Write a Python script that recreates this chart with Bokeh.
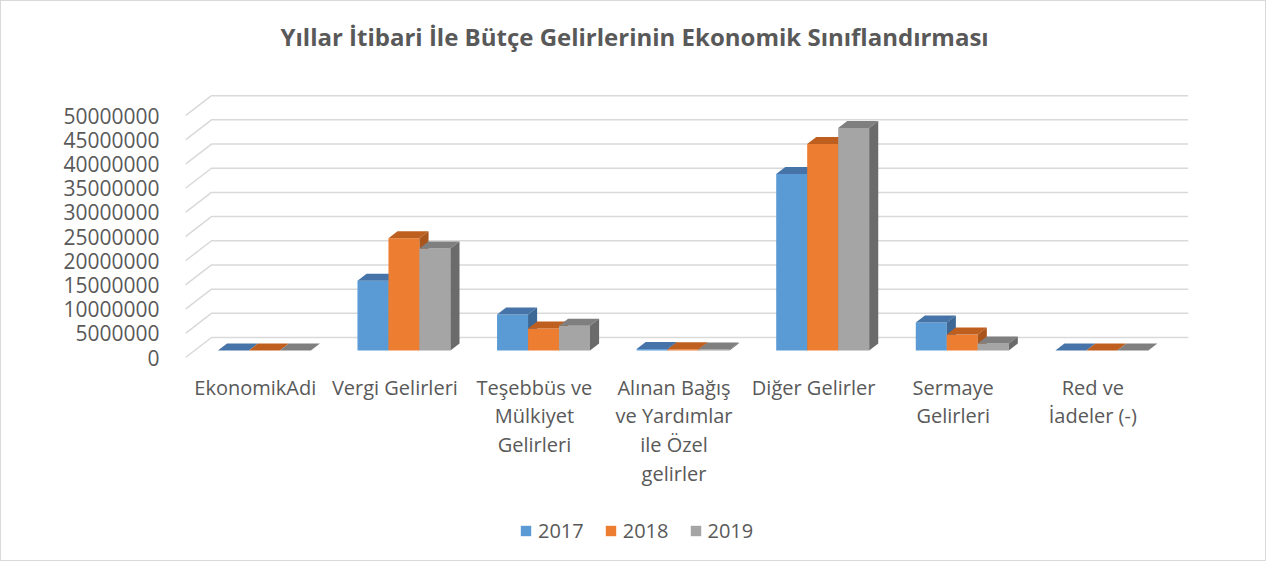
from bokeh.plotting import figure
from bokeh.models import ColumnDataSource, FixedTicker, Range1d, Legend, LegendItem, Title
from bokeh.core.properties import value
from bokeh.embed import file_html
from bokeh.resources import INLINE

# ---------------- data ----------------
categories = ["EkonomikAdi", "Vergi Gelirleri", "Teşebbüs ve\nMülkiyet\nGelirleri",
              "Alınan Bağış\nve Yardımlar\nile Özel\ngelirler", "Diğer Gelirler",
              "Sermaye\nGelirleri", "Red ve\nİadeler (-)"]
years = ["2017", "2018", "2019"]
v2017 = [0, 14400000, 7450000, 300000, 36500000, 5800000, 0]
v2018 = [0, 23200000, 4550000, 250000, 42700000, 3300000, 0]
v2019 = [0, 21100000, 5100000, 200000, 46000000, 1450000, 0]
y_ticks = [0, 5000000, 10000000, 15000000, 20000000, 25000000,
           30000000, 35000000, 40000000, 45000000, 50000000]
y_tick_labels = ["0", "5000000", "10000000", "15000000", "20000000", "25000000",
                 "30000000", "35000000", "40000000", "45000000", "50000000"]
title_text = "Yıllar İtibari İle Bütçe Gelirlerinin Ekonomik Sınıflandırması"

# ---------------- style ----------------
front_colors = ["#5B9BD5", "#ED7D31", "#A5A5A5"]
top_colors = ["#4674A8", "#BE5F1F", "#7F7F7F"]
side_colors = ["#3D6895", "#A9551C", "#6B6B6B"]
TXT = "#595959"
GRID = "#D9D9D9"
FONT = "Open Sans"

W, H = 1266, 561
BORDER_L, BORDER_R, BORDER_T = 184, 79, 90
PLOT_H = 266          # px from frame top to the value-0 line
Y_TOP = 55e6          # value at frame top
frame_h = H - BORDER_T
y_start = Y_TOP - Y_TOP * frame_h / PLOT_H   # extend frame below zero for labels + legend

n = len(categories)
DX = 0.186        # full depth shift in category units
DY = 4.135e6      # full depth shift in value units
D1, D2 = 0.35, 0.70   # bar depth (front, back) as fraction of full depth
BW = 0.222        # bar width in category units

p = figure(width=W, height=H, output_backend="svg", toolbar_location=None,
           x_range=Range1d(0, n + DX), y_range=Range1d(y_start, Y_TOP),
           x_axis_location=None,
           min_border_left=BORDER_L, min_border_right=BORDER_R, min_border_top=BORDER_T,
           min_border_bottom=0, background_fill_color="white",
           border_fill_color="white", outline_line_color=None)
p.styles = {"border": "1px solid #D9D9D9", "box-sizing": "border-box"}
p.xgrid.visible = False
p.ygrid.visible = False

# main title
p.title.text = title_text
p.title.align = "left"
p.title.vertical_align = "top"
p.title.offset = 95
p.title.standoff = 0
p.title.text_font = FONT
p.title.text_font_size = "24px"
p.title.text_font_style = "bold"
p.title.text_color = TXT

# blank spacer between title and frame
spacer = Title(text=" ", text_font=FONT, text_font_size="12px", standoff=18)
p.add_layout(spacer, "above")

# gridlines: left wall diagonal + back wall
gx = [[0, DX, n + DX] for v in y_ticks]
gy = [[v, v + DY, v + DY] for v in y_ticks]
p.multi_line(gx, gy, line_color=GRID, line_width=1.5)

# bars
series = [v2017, v2018, v2019]
ddx = (D2 - D1) * DX
ddy = (D2 - D1) * DY
front_renderers = []
for j, vals in enumerate(series):
    left = [c + 0.5 + D1 * DX - 1.5 * BW + j * BW for c in range(n)]
    right = [l + BW for l in left]
    bottom = [D1 * DY] * n
    top = [v + D1 * DY for v in vals]
    src = ColumnDataSource(dict(left=left, right=right, bottom=bottom, top=top))
    r = p.quad(left="left", right="right", bottom="bottom", top="top", source=src,
               fill_color=front_colors[j], line_color=None)
    front_renderers.append(r)
    txs = [[l, rr, rr + ddx, l + ddx] for l, rr in zip(left, right)]
    tys = [[t, t, t + ddy, t + ddy] for t in top]
    p.patches(txs, tys, fill_color=top_colors[j], line_color=None)
    sxs = [[rr, rr, rr + ddx, rr + ddx] for rr in right]
    sys_ = [[b, t, t + ddy, b + ddy] for b, t in zip(bottom, top)]
    p.patches(sxs, sys_, fill_color=side_colors[j], line_color=None)

# y axis
p.yaxis.ticker = FixedTicker(ticks=y_ticks)
p.yaxis.major_label_overrides = {v: s for v, s in zip(y_ticks, y_tick_labels)}
p.yaxis.axis_line_color = None
p.yaxis.major_tick_line_color = None
p.yaxis.minor_tick_line_color = None
p.yaxis.major_label_standoff = 20
p.yaxis.major_label_text_font = FONT
p.yaxis.major_label_text_font_size = "21px"
p.yaxis.major_label_text_color = TXT

# category labels at category centres (front plane)
lab_src = ColumnDataSource(dict(x=[c + 0.5 for c in range(n)], y=[0] * n, text=categories))
p.text(x="x", y="y", text="text", source=lab_src, text_align="center",
       text_baseline="top", y_offset=16, text_font=value(FONT), text_font_size="20px",
       text_color=TXT, text_line_height=1.07)

# legend
legend = Legend(items=[LegendItem(label=y, renderers=[r]) for y, r in zip(years, front_renderers)],
                orientation="horizontal", location=(334, 18),
                glyph_width=13, glyph_height=13, label_standoff=6, spacing=20,
                padding=0, margin=0, border_line_color=None, background_fill_alpha=0,
                label_text_font=FONT, label_text_font_size="20px", label_text_color=TXT)
p.add_layout(legend, "center")

open("out.html", "w").write(file_html(p, INLINE))
